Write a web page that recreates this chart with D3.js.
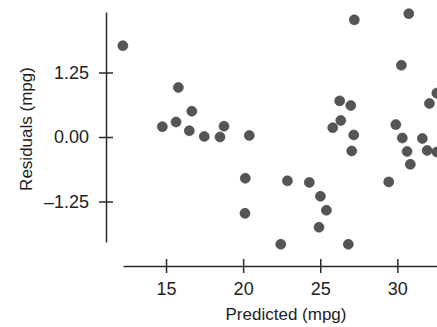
<!DOCTYPE html>
<html>
<head>
<meta charset="utf-8">
<script src="https://cdn.jsdelivr.net/npm/d3@7"></script>
<style>
    body { margin: 0; background: #fff; }
    svg text { font-family: "Liberation Sans", Arial, sans-serif; fill: #222; }
</style>
</head>
<body>
<div id="chart-area"></div>
<script>
// residuals vs predicted mpg
var predicted = [12.2, 15.8, 16.67, 14.76, 15.65, 16.51, 17.48, 18.5, 18.76, 20.4,
    27.21, 30.74, 30.26, 32.56, 32.08, 26.26, 26.98, 26.33, 25.81, 27.17,
    27.04, 29.9, 30.32, 31.62, 30.63, 31.93, 32.56, 30.84, 20.14, 22.87,
    24.29, 29.44, 25.01, 25.4, 20.12, 24.92, 22.44, 26.82];
var residuals = [1.77, 0.96, 0.5, 0.2, 0.29, 0.12, 0.01, 0.0, 0.21, 0.03,
    2.27, 2.39, 1.39, 0.85, 0.65, 0.7, 0.61, 0.32, 0.18, 0.04,
    -0.27, 0.24, -0.02, -0.03, -0.28, -0.26, -0.29, -0.53, -0.8, -0.85,
    -0.88, -0.87, -1.15, -1.42, -1.48, -1.75, -2.08, -2.08];
var xTicks = [15, 20, 25, 30];
var yTicks = [1.25, 0.00, -1.25];

var width = 437;
var height = 327;

var svg = d3.select("#chart-area")
    .append("svg")
    .attr("width", width)
    .attr("height", height);

// Scales
var x = d3.scaleLinear()
    .domain([12.21, 32.57])
    .range([123, 437]);

var y = d3.scaleLinear()
    .domain([-2.035, 2.4225])
    .range([242, 12]);

var xAxisGroup = svg.append("g")
    .attr("transform", "translate(0, 266)")
    .call(d3.axisBottom(x)
        .tickValues(xTicks)
        .tickSize(7)
        .tickSizeOuter(0)
        .tickPadding(9));

var yAxisGroup = svg.append("g")
    .attr("transform", "translate(106, 0)")
    .call(d3.axisLeft(y)
        .tickValues(yTicks)
        .tickSize(7)
        .tickSizeOuter(0)
        .tickPadding(10)
        .tickFormat(function(d) { return d3.format(".2f")(d).replace("\u2212", "\u2013"); }));

// ticks cross the axis line on both sides
xAxisGroup.selectAll(".tick line").attr("y1", -7).attr("y2", 7);
yAxisGroup.selectAll(".tick line").attr("x1", -7).attr("x2", 7);

svg.selectAll(".domain, .tick line")
    .attr("stroke", "#2a2a2a")
    .attr("stroke-width", 1.5);

svg.selectAll(".tick text")
    .attr("font-size", 18)
    .attr("fill", "#222");

svg.append("text")
    .attr("x", 286)
    .attr("y", 320)
    .attr("text-anchor", "middle")
    .attr("font-size", 17)
    .text("Predicted (mpg)");

svg.append("text")
    .attr("transform", "translate(32, 129) rotate(-90)")
    .attr("text-anchor", "middle")
    .attr("font-size", 17)
    .text("Residuals (mpg)");

svg.selectAll(".dot")
    .data(predicted)
    .enter().append("circle")
    .attr("class", "dot")
    .attr("cx", function(d) { return x(d); })
    .attr("cy", function(d, i) { return y(residuals[i]); })
    .attr("r", 5)
    .attr("fill", "#555")
    .attr("stroke", "#444")
    .attr("stroke-width", 0.6);
</script>
</body>
</html>
